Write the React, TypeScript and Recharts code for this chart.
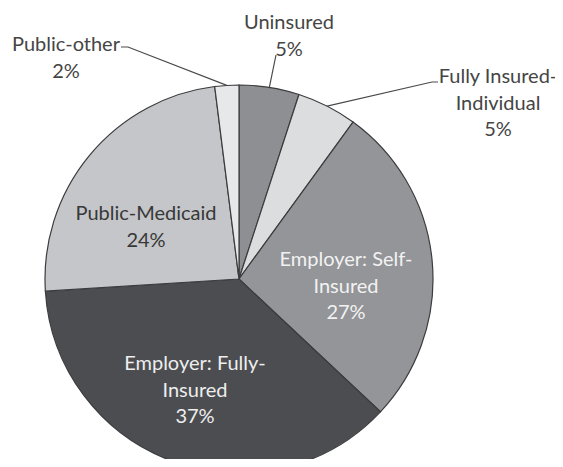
import { Cell, Pie, PieChart } from 'recharts';

const categories = [
    'Uninsured',
    'Fully Insured-Individual',
    'Employer: Self-Insured',
    'Employer: Fully-Insured',
    'Public-Medicaid',
    'Public-other',
];
const shares = [5, 5, 27, 37, 24, 2];
const labelLines = [
    ['Uninsured', '5%'],
    ['Fully Insured-', 'Individual', '5%'],
    ['Employer: Self-', 'Insured', '27%'],
    ['Employer: Fully-', 'Insured', '37%'],
    ['Public-Medicaid', '24%'],
    ['Public-other', '2%'],
];

const colors = ['#8e8f92', '#dcdddf', '#939598', '#4c4d51', '#c4c6c9', '#e7e8e9'];
const textColors = ['#454545', '#454545', '#f2f2f2', '#eeeeee', '#383838', '#454545'];

// label block placement, relative to pie centre; leader = elbow points for outside labels
const labelLayout = [
    { dx: 50, dy: -258, leader: [[37, -224], [37, -224]] },
    { dx: 259, dy: -204, leader: [[193, -197], [199, -197]] },
    { dx: 107, dy: -21, leader: null },
    { dx: -44, dy: 83, leader: null },
    { dx: -93, dy: -67, leader: null },
    { dx: -173, dy: -236, leader: [[-111, -232], [-118, -232]] },
];

const data = categories.map((name, i) => ({ name, value: shares[i] }));

const RAD = Math.PI / 180;
const LINE_H = 26.5;

const renderLabel = (props: any) => {
    const { cx, cy, midAngle, outerRadius, index } = props;
    const layout = labelLayout[index];
    const lines = labelLines[index];
    const x = cx + layout.dx;
    const y0 = cy + layout.dy;
    let leader = null;
    if (layout.leader) {
        const sx = cx + outerRadius * Math.cos(-midAngle * RAD);
        const sy = cy + outerRadius * Math.sin(-midAngle * RAD);
        const pts = [[sx, sy], ...layout.leader.map(([px, py]) => [cx + px, cy + py])];
        leader = (
            <polyline
                points={pts.map((p) => p.join(',')).join(' ')}
                fill="none"
                stroke="#4a4a4a"
                strokeWidth={1.2}
            />
        );
    }
    return (
        <g key={`lbl-${index}`}>
            {leader}
            <text
                x={x}
                y={y0}
                textAnchor="middle"
                fill={textColors[index]}
                fontFamily="Lato, 'Open Sans', sans-serif"
                fontSize={20}
            >
                {lines.map((line, i) => (
                    <tspan key={i} x={x} y={y0 + i * LINE_H} dominantBaseline="central">
                        {line}
                    </tspan>
                ))}
            </text>
        </g>
    );
};

export default function App() {
    return (
        <div style={{ width: 563, height: 467, margin: -8, background: '#ffffff' }}>
            <PieChart width={563} height={467} margin={{ top: 0, right: 0, bottom: 0, left: 0 }}>
                <Pie
                    data={data}
                    dataKey="value"
                    nameKey="name"
                    cx={239}
                    cy={279}
                    outerRadius={194}
                    startAngle={90}
                    endAngle={-270}
                    stroke="#3c3c3e"
                    strokeWidth={1.2}
                    label={renderLabel}
                    labelLine={false}
                    isAnimationActive={false}
                >
                    {data.map((entry, i) => (
                        <Cell key={entry.name} fill={colors[i]} />
                    ))}
                </Pie>
            </PieChart>
        </div>
    );
}
